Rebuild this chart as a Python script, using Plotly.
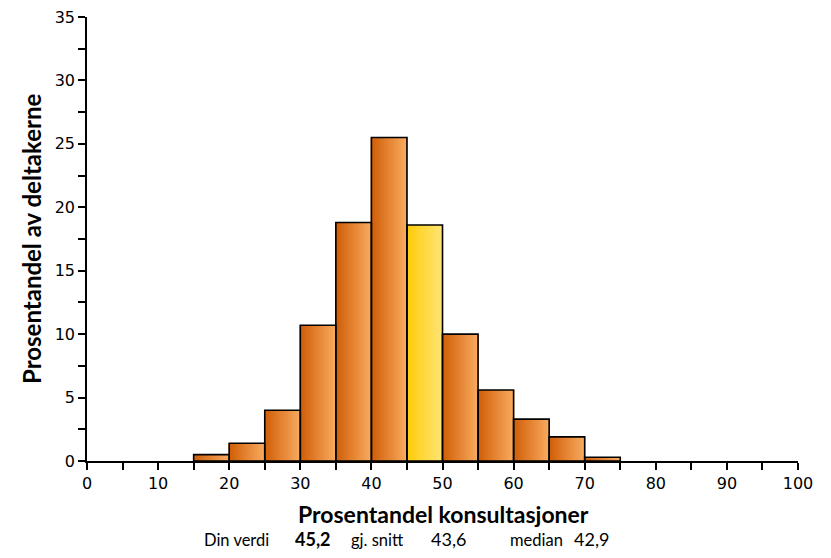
import plotly.graph_objects as go

# Data
bin_left = [15, 20, 25, 30, 35, 40, 45, 50, 55, 60, 65, 70]
bin_width = 5
percent = [0.5, 1.4, 4.0, 10.7, 18.8, 25.5, 18.6, 10.0, 5.6, 3.3, 1.9, 0.3]
highlight_bin = 45
x_title = "Prosentandel konsultasjoner"
y_title = "Prosentandel av deltakerne"
footer = [("Din verdi", False), ("45,2", True), ("gj. snitt", False), ("43,6", False), ("median", False), ("42,9", False)]
footer_px = [236, 313, 377, 448, 536, 591]

OFF = 8  # page body margin
W, H = 831 - 2 * OFF, 558 - 2 * OFF
L, T = 87 - OFF, 17 - OFF
R = W - (798 - OFF)
B = H - (461 - OFF)

def lerp(c1, c2, t):
    return "rgb(%d,%d,%d)" % tuple(round(a + (b - a) * t) for a, b in zip(c1, c2))

orange_l, orange_r = (208, 94, 8), (247, 168, 92)
yellow_l, yellow_r = (255, 204, 10), (255, 228, 115)

fig = go.Figure()
N = 16
for k in range(N):
    t = k / (N - 1)
    xs = [b + (k + 0.5) * bin_width / N for b in bin_left]
    cols = [lerp(yellow_l, yellow_r, t) if b == highlight_bin else lerp(orange_l, orange_r, t) for b in bin_left]
    fig.add_trace(go.Bar(x=xs, y=percent, width=bin_width / N * 1.6,
                         marker=dict(color=cols, line=dict(width=0)),
                         hoverinfo="skip", showlegend=False))
fig.add_trace(go.Bar(x=[b + bin_width / 2 for b in bin_left], y=percent, width=bin_width,
                     marker=dict(color="rgba(0,0,0,0)", line=dict(color="black", width=1.6)),
                     showlegend=False))

fig.update_layout(
    width=W, height=H, barmode="overlay",
    margin=dict(l=L, r=R, t=T, b=B, autoexpand=False),
    paper_bgcolor="white", plot_bgcolor="white",
    font=dict(family="DejaVu Sans", size=15, color="black"),
    xaxis=dict(range=[0, 100], tickmode="linear", tick0=0, dtick=10, automargin=False,
               showline=True, linecolor="black", linewidth=1.5,
               ticks="outside", ticklen=7, tickwidth=1.5, tickcolor="black",
               minor=dict(dtick=5, ticks="outside", ticklen=7, tickwidth=1.5, tickcolor="black"),
               showgrid=False, zeroline=False, ticklabeloverflow="allow",
               tickfont=dict(family="DejaVu Sans", size=16)),
    yaxis=dict(range=[0, 35], tickmode="linear", tick0=0, dtick=5, automargin=False,
               showline=True, linecolor="black", linewidth=1.5,
               ticks="outside", ticklen=7, tickwidth=1.5, tickcolor="black",
               minor=dict(dtick=2.5, ticks="outside", ticklen=7, tickwidth=1.5, tickcolor="black"),
               showgrid=False, zeroline=False, ticklabeloverflow="allow",
               tickfont=dict(family="DejaVu Sans", size=16)),
)

pw = W - L - R
ph = H - T - B
def px_x(px):
    return (px - OFF - L) / pw
def px_y(py):
    return (H - B - (py - OFF)) / ph

fig.add_annotation(text="<b>%s</b>" % x_title, x=px_x(443), y=px_y(514), xref="paper", yref="paper",
                   showarrow=False, font=dict(family="Lato", size=23), xanchor="center", yanchor="middle",
                   borderpad=0)
fig.add_annotation(text="<b>%s</b>" % y_title, x=px_x(31), y=px_y(239), xref="paper", yref="paper",
                   showarrow=False, textangle=-90, font=dict(family="Lato", size=24),
                   xanchor="center", yanchor="middle")
for (txt, bold), px in zip(footer, footer_px):
    fig.add_annotation(text=("<b>%s</b>" % txt) if bold else txt, x=px_x(px), y=px_y(551),
                       xref="paper", yref="paper", showarrow=False,
                       font=dict(family="Lato", size=18 if bold or txt[0].isdigit() else 16.5),
                       xanchor="center", yanchor="bottom", borderpad=0)

fig.write_html("out.html")
